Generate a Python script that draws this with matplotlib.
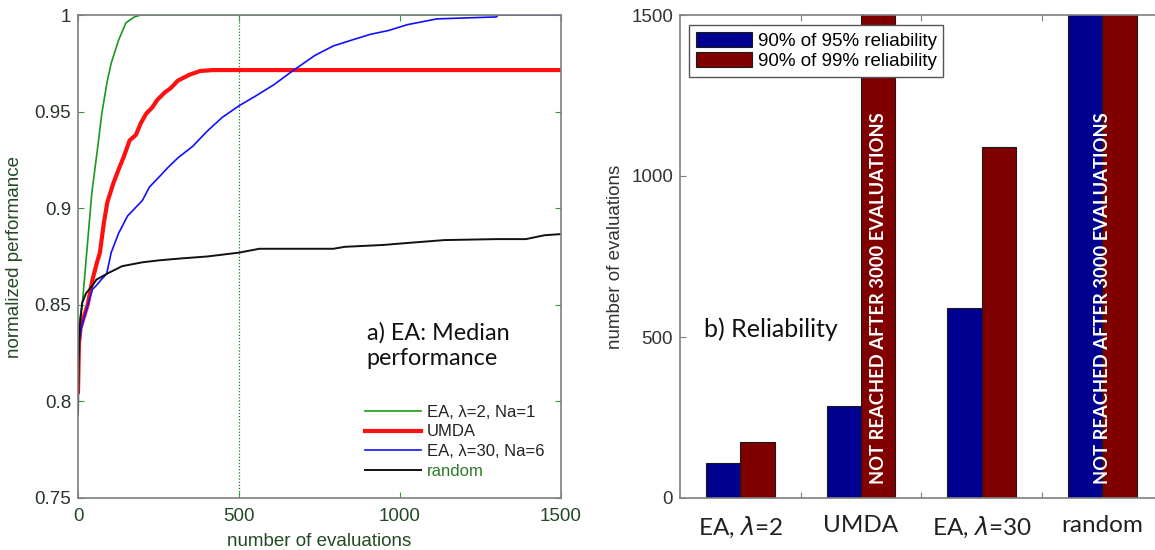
import numpy as np
import matplotlib.pyplot as plt
from matplotlib.ticker import FixedLocator, FuncFormatter

# --- median performance curves (panel a) ---
ea2_x = [0, 5, 13, 20, 25, 43, 60, 74, 90, 103, 126, 149, 175, 195, 1500]
ea2_y = [0.835, 0.842, 0.850, 0.863, 0.873, 0.908, 0.930, 0.949, 0.965, 0.975,
         0.987, 0.996, 0.999, 1.0, 1.0]

umda_x = [0, 3, 8, 15, 30, 45, 59, 68, 80, 91, 110, 126, 143, 160, 180, 195,
          212, 230, 246, 270, 287, 310, 345, 379, 419, 1500]
umda_y = [0.805, 0.830, 0.838, 0.842, 0.850, 0.863, 0.872, 0.877, 0.892, 0.903,
          0.913, 0.920, 0.927, 0.935, 0.938, 0.944, 0.949, 0.952, 0.956, 0.960,
          0.962, 0.966, 0.969, 0.971, 0.9715, 0.9715]

ea30_x = [0, 5, 10, 27, 45, 57, 72, 89, 103, 126, 154, 200, 222, 251, 279, 310,
          356, 402, 448, 500, 551, 609, 666, 735, 793, 850, 908, 965, 1023, 1115,
          1299, 1305, 1500]
ea30_y = [0.823, 0.832, 0.838, 0.848, 0.858, 0.860, 0.863, 0.866, 0.877, 0.887,
          0.896, 0.904, 0.911, 0.916, 0.921, 0.926, 0.932, 0.940, 0.947, 0.953,
          0.958, 0.964, 0.971, 0.979, 0.984, 0.987, 0.990, 0.992, 0.995, 0.998,
          0.999, 1.0, 1.0]

rand_x = [0, 2, 5, 13, 25, 45, 57, 89, 137, 200, 251, 320, 401, 500, 563, 700,
          793, 828, 950, 1023, 1138, 1300, 1391, 1420, 1449, 1500]
rand_y = [0.793, 0.820, 0.838, 0.851, 0.856, 0.860, 0.863, 0.866, 0.870, 0.872,
          0.873, 0.874, 0.875, 0.877, 0.879, 0.879, 0.879, 0.880, 0.881, 0.882,
          0.8835, 0.884, 0.884, 0.885, 0.886, 0.8866]

# --- evaluations needed (panel b) ---
categories = ["EA, $\\lambda$=2", "UMDA", "EA, $\\lambda$=30", "random"]
rel95 = [110, 287, 590, 3000]
rel99 = [175, 3000, 1091, 3000]
not_reached = 3000

GRID_GREEN = "#1f7a1f"
TEXT_GREEN = "#234a23"
SPINE = "#7f7f7f"

plt.rcParams["font.family"] = ["Liberation Sans", "DejaVu Sans"]

fig = plt.figure(figsize=(11.55, 5.5), dpi=100)
ax1 = fig.add_axes([78 / 1155, 52 / 550, 483 / 1155, 483 / 550])
ax2 = fig.add_axes([680 / 1155, 52 / 550, 482.5 / 1155, 483 / 550])

# ---------------- panel a ----------------
ax1.axvline(500, color=GRID_GREEN, ls=(0, (1, 1.5)), lw=0.9, zorder=1)
ax1.plot(ea2_x, ea2_y, color="#1a9a1a", lw=1.2, label="EA, λ=2, Na=1")
ax1.plot(umda_x, umda_y, color="#ff1010", lw=3.0, label="UMDA")
ax1.plot(ea30_x, ea30_y, color="#1010ff", lw=1.2, label="EA, λ=30, Na=6")
ax1.plot(rand_x, rand_y, color="#111111", lw=1.4, label="random")

ax1.set_xlim(0, 1500)
ax1.set_ylim(0.75, 1.0)
ax1.set_xticks([0, 500, 1000, 1500])
ax1.set_yticks([0.75, 0.8, 0.85, 0.9, 0.95, 1.0])
ax1.yaxis.set_major_formatter(FuncFormatter(lambda v, p: f"{v:g}"))
ax1.tick_params(direction="in", length=4, width=0.8, color="#2ca02c",
                top=True, right=True, labelsize=13.5, labelcolor="#2a332a")
ax1.tick_params(axis="x", pad=7, labelcolor=TEXT_GREEN)
ax1.tick_params(axis="y", pad=5)
for sp in ax1.spines.values():
    sp.set_color(SPINE)
    sp.set_linewidth(1.2)
ax1.set_xlabel("number of evaluations", fontsize=13.5, color=TEXT_GREEN, labelpad=6)
ax1.set_ylabel("normalized performance", fontsize=13.5, color=TEXT_GREEN, labelpad=8)

ax1.text(897, 0.829, "a) EA: Median\nperformance", fontsize=16.8, family="Lato",
         color="#111111", va="center", ha="left", linespacing=1.25)

leg1 = ax1.legend(loc="upper left", bbox_to_anchor=(0.594, 0.193), frameon=False,
                  fontsize=12, handlelength=3.35, handletextpad=0.36,
                  labelspacing=0.28, borderpad=0, borderaxespad=0)
for t in leg1.get_texts():
    t.set_color("#222222")
leg1.get_texts()[-1].set_color("#2a7a2a")

# ---------------- panel b ----------------
x = np.arange(1, len(categories) + 1)
w = 0.285
ax2.bar(x - w / 2, rel95, w, color="#000090", edgecolor="#1a1a1a", lw=0.8,
        label="90% of 95% reliability", zorder=2)
ax2.bar(x + w / 2, rel99, w, color="#800000", edgecolor="#1a1a1a", lw=0.8,
        label="90% of 99% reliability", zorder=2)

ax2.set_xlim(0.5, 4.5)
ax2.set_ylim(0, 1500)
ax2.set_yticks([0, 500, 1000, 1500])
ax2.set_xticks(x)
ax2.set_xticklabels(categories, family="Lato", fontsize=17.5, color="#222222")
ax2.xaxis.set_minor_locator(FixedLocator([1.5, 2.5, 3.5]))
ax2.tick_params(axis="x", which="major", length=0, pad=12)
ax2.tick_params(axis="x", which="minor", direction="in", length=4, width=0.8,
                color=SPINE, top=True)
ax2.tick_params(axis="y", direction="in", length=4, width=0.8, color=SPINE,
                right=True, labelsize=13.5, labelcolor="#333333", pad=5)
for sp in ax2.spines.values():
    sp.set_color(SPINE)
    sp.set_linewidth(1.2)
ax2.set_ylabel("number of evaluations", fontsize=13.5, color="#333333", labelpad=5)

# runs that never reached the level within the budget
for i, (a, b) in enumerate(zip(rel95, rel99)):
    if b >= not_reached:
        xc = x[i] if a >= not_reached else x[i] + w / 2
        ax2.text(xc, 620, f"NOT REACHED AFTER {not_reached} EVALUATIONS",
                 rotation=90, ha="center", va="center", color="white",
                 family="Lato", fontweight="bold", fontsize=13.2, zorder=3)

ax2.text(0.70, 524, "b) Reliability", fontsize=18, family="Lato",
         color="#111111", va="center", ha="left")

leg2 = ax2.legend(loc="upper left", bbox_to_anchor=(0.0187, 0.979), fontsize=13.5,
                  handlelength=3.0, handleheight=0.9, handletextpad=0.32,
                  labelspacing=0.1, borderpad=0.35, borderaxespad=0,
                  fancybox=False, framealpha=1)
leg2.get_frame().set_edgecolor("#555555")
leg2.get_frame().set_linewidth(1.0)

fig.savefig("out.png", dpi=100)
